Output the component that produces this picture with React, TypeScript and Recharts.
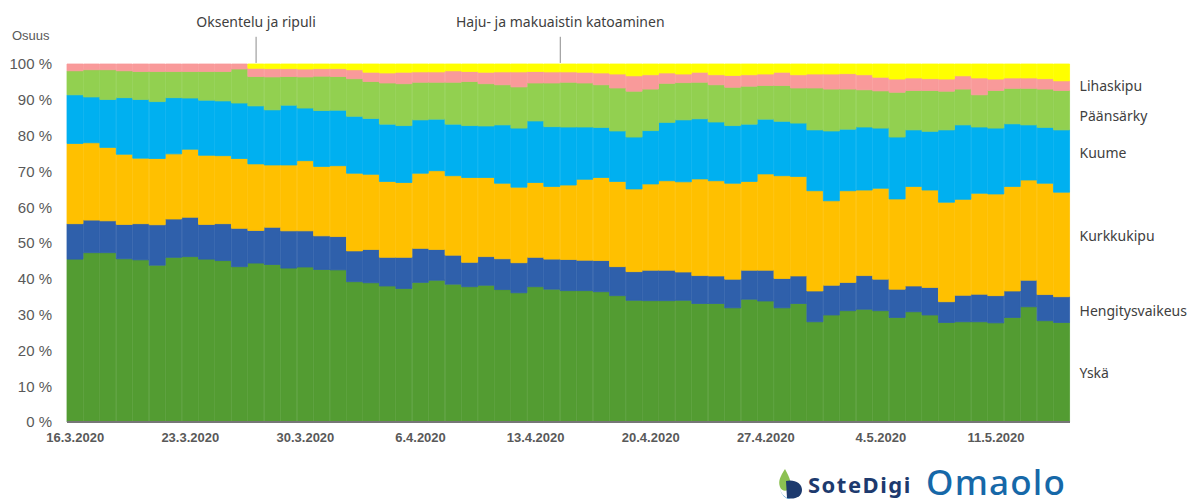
import { BarChart, Bar, XAxis, YAxis, ReferenceLine, LabelList } from "recharts"

const dates = [
  "16.3.2020", "17.3.2020", "18.3.2020", "19.3.2020", "20.3.2020", "21.3.2020", "22.3.2020",
  "23.3.2020", "24.3.2020", "25.3.2020", "26.3.2020", "27.3.2020", "28.3.2020", "29.3.2020",
  "30.3.2020", "31.3.2020", "1.4.2020", "2.4.2020", "3.4.2020", "4.4.2020", "5.4.2020",
  "6.4.2020", "7.4.2020", "8.4.2020", "9.4.2020", "10.4.2020", "11.4.2020", "12.4.2020",
  "13.4.2020", "14.4.2020", "15.4.2020", "16.4.2020", "17.4.2020", "18.4.2020", "19.4.2020",
  "20.4.2020", "21.4.2020", "22.4.2020", "23.4.2020", "24.4.2020", "25.4.2020", "26.4.2020",
  "27.4.2020", "28.4.2020", "29.4.2020", "30.4.2020", "1.5.2020", "2.5.2020", "3.5.2020",
  "4.5.2020", "5.5.2020", "6.5.2020", "7.5.2020", "8.5.2020", "9.5.2020", "10.5.2020",
  "11.5.2020", "12.5.2020", "13.5.2020", "14.5.2020", "15.5.2020",
]

// osuus (%) per päivä, alhaalta ylös
const yska = [
  45.5, 47.3, 47.3, 45.6, 45.3, 43.8, 46.0, 46.2, 45.5, 45.1,
  43.4, 44.4, 44.0, 43.0, 43.3, 42.6, 42.5, 39.2, 38.9, 38.0,
  37.3, 39.0, 39.6, 38.5, 37.8, 38.2, 37.0, 36.1, 37.8, 37.1,
  36.7, 36.7, 36.4, 35.3, 34.0, 33.9, 33.9, 34.0, 33.1, 33.1,
  31.9, 34.3, 33.8, 31.9, 33.1, 28.0, 29.9, 31.1, 31.5, 31.1,
  29.2, 30.8, 29.9, 27.8, 28.0, 28.0, 27.7, 29.2, 32.2, 28.3, 27.8,
]
const hengitys = [
  9.9, 9.1, 8.9, 9.6, 10.1, 11.3, 10.7, 11.0, 9.7, 10.3,
  10.7, 9.1, 10.4, 10.4, 10.1, 9.4, 9.3, 8.6, 9.3, 8.0,
  8.7, 9.5, 8.6, 8.1, 6.8, 8.0, 8.6, 8.4, 8.2, 8.4,
  8.7, 8.5, 8.7, 8.1, 8.0, 8.5, 8.5, 7.9, 7.8, 7.7,
  8.0, 8.1, 8.6, 8.2, 7.7, 8.6, 8.3, 7.9, 9.4, 8.8,
  7.9, 7.2, 7.7, 5.8, 7.4, 7.7, 7.6, 7.4, 7.4, 7.3, 7.2,
]
const kurkku = [
  22.4, 21.6, 20.5, 19.6, 18.3, 18.5, 18.2, 19.0, 19.3, 19.0,
  19.5, 18.6, 17.4, 18.4, 19.6, 19.4, 19.8, 21.7, 21.0, 21.2,
  20.9, 21.0, 22.0, 22.2, 23.7, 22.1, 21.1, 21.1, 20.9, 20.3,
  20.8, 22.6, 23.2, 23.8, 23.1, 24.1, 25.0, 25.2, 27.0, 26.6,
  26.8, 24.8, 26.9, 28.7, 27.8, 28.0, 23.6, 25.6, 23.9, 25.4,
  25.2, 27.8, 27.2, 27.8, 26.8, 28.2, 28.4, 29.2, 28.0, 31.1, 29.2,
]
const kuume = [
  13.6, 12.8, 13.4, 15.8, 16.4, 15.9, 15.7, 14.3, 15.4, 15.3,
  15.5, 16.2, 15.4, 16.7, 14.7, 15.6, 15.5, 15.9, 15.6, 16.0,
  15.9, 14.9, 14.4, 14.4, 14.5, 14.4, 16.3, 16.5, 17.2, 16.7,
  16.2, 14.6, 14.0, 14.1, 14.5, 14.9, 16.3, 17.3, 16.8, 16.4,
  16.1, 16.0, 15.3, 15.2, 14.9, 17.0, 19.5, 17.2, 17.6, 16.8,
  17.3, 15.8, 16.4, 20.2, 20.8, 18.5, 18.4, 17.5, 15.4, 15.6, 17.4,
]
const paansarky = [
  6.7, 7.6, 8.3, 7.5, 7.8, 8.4, 7.3, 7.4, 8.0, 8.2,
  9.5, 8.2, 9.2, 8.0, 8.7, 9.6, 9.4, 10.5, 10.3, 11.5,
  11.7, 10.5, 10.3, 11.7, 12.3, 11.8, 11.2, 11.5, 10.6, 12.2,
  12.5, 12.3, 11.9, 12.0, 12.8, 11.6, 10.9, 10.4, 10.2, 10.4,
  10.7, 10.6, 9.4, 10.0, 9.8, 11.7, 11.7, 11.2, 10.4, 10.4,
  12.5, 11.0, 11.4, 10.8, 10.0, 9.0, 10.5, 9.9, 10.2, 10.7, 11.0,
]
const lihaskipu = [
  1.9, 1.6, 1.6, 1.9, 2.1, 2.1, 2.1, 2.1, 2.1, 2.1,
  1.4, 2.3, 2.3, 2.2, 2.2, 2.1, 2.2, 2.5, 2.6, 2.8,
  3.2, 2.9, 2.9, 3.2, 2.8, 3.2, 3.6, 4.2, 3.2, 3.1,
  2.9, 3.0, 3.3, 3.9, 4.3, 4.0, 2.9, 2.4, 2.8, 2.8,
  3.3, 3.2, 3.2, 3.7, 3.7, 3.9, 4.2, 4.3, 4.2, 3.8,
  3.7, 3.5, 3.3, 3.4, 3.7, 4.7, 3.2, 2.9, 2.9, 2.9, 2.7,
]
const muut = [
  0, 0, 0, 0, 0, 0, 0, 0, 0, 0,
  0, 1.2, 1.3, 1.3, 1.4, 1.3, 1.3, 1.6, 2.3, 2.5,
  2.3, 2.2, 2.2, 1.9, 2.1, 2.3, 2.2, 2.2, 2.1, 2.2,
  2.2, 2.3, 2.5, 2.8, 3.3, 3.0, 2.5, 2.8, 2.3, 3.0,
  3.2, 3.0, 2.8, 2.3, 3.0, 2.8, 2.8, 2.7, 3.0, 3.7,
  4.2, 3.9, 4.1, 4.2, 3.3, 3.9, 4.2, 3.9, 3.9, 4.1, 4.7,
]

const yTicks = [0, 0.1, 0.2, 0.3, 0.4, 0.5, 0.6, 0.7, 0.8, 0.9, 1]

const data = dates.map((d, i) => ({
  date: d,
  yska: yska[i],
  hengitys: hengitys[i],
  kurkku: kurkku[i],
  kuume: kuume[i],
  paansarky: paansarky[i],
  lihaskipu: lihaskipu[i],
  muut: muut[i],
}))

const series = [
  { key: "yska", name: "Yskä", color: "#539C32", dy: 1 },
  { key: "hengitys", name: "Hengitysvaikeus", color: "#2F60AB", dy: 2 },
  { key: "kurkku", name: "Kurkkukipu", color: "#FFC000", dy: -8 },
  { key: "kuume", name: "Kuume", color: "#00B0F0", dy: -8 },
  { key: "paansarky", name: "Päänsärky", color: "#92D050", dy: 6 },
  { key: "lihaskipu", name: "Lihaskipu", color: "#F99A9A", dy: 0 },
  { key: "muut", name: "", color: "#FFFF00", dy: 0 },
]

const labelFont = "'Noto Sans', 'Open Sans', sans-serif"

const endLabel = (name: string, dy: number) => (props: any) => {
  const { x, y, width, height, index } = props
  if (!name || index !== dates.length - 1) return null
  return (
    <text
      x={Number(x) + Number(width) + 10}
      y={Number(y) + Number(height) / 2 + dy}
      dy="0.35em"
      fill="#404040"
      fontSize={14}
      fontFamily={labelFont}
    >
      {name}
    </text>
  )
}

export default function App() {
  return (
    <div style={{ position: "absolute", left: 0, top: 0, width: 1190, height: 499, overflow: "hidden", background: "#fff" }}>
      <div style={{ position: "absolute", left: 12, top: 28, fontFamily: "'Liberation Sans', Arial, sans-serif", fontSize: 13, color: "#595959" }}>
        Osuus
      </div>
      <BarChart
        width={1190}
        height={499}
        data={data}
        stackOffset="expand"
        barCategoryGap={0}
        barGap={0}
        margin={{ top: 64, right: 120, bottom: 47, left: 0 }}
      >
        <XAxis
          dataKey="date"
          interval={6}
          tickLine={false}
          tickSize={6}
          tickMargin={5}
          height={30}
          stroke="#767676"
          strokeWidth={2}
          tick={{ fill: "#595959", fontSize: 13, fontWeight: "bold", fontFamily: "'Liberation Sans', Arial, sans-serif" }}
        />
        <YAxis
          width={67}
          domain={[0, 1]}
          ticks={yTicks}
          axisLine={false}
          tickLine={false}
          tickSize={6}
          tickMargin={9}
          tickFormatter={(v: number) => `${Math.round(v * 100)} %`}
          tick={{ fill: "#595959", fontSize: 15, fontFamily: "'Liberation Sans', Arial, sans-serif" }}
        />
        {series.map((s) => (
          <Bar
            key={s.key}
            dataKey={s.key}
            name={s.name || "Muut"}
            stackId="a"
            fill={s.color}
            stroke={s.color}
            strokeWidth={0.8}
            isAnimationActive={false}
          >
            <LabelList dataKey={s.key} content={endLabel(s.name, s.dy)} />
          </Bar>
        ))}
        <ReferenceLine
          segment={[{ x: "27.3.2020", y: 1.003 }, { x: "27.3.2020", y: 1.076 }]}
          position="middle"
          ifOverflow="visible"
          stroke="#8c8c8c"
          strokeWidth={1}
          label={{ value: "Oksentelu ja ripuli", position: "top", offset: 10, fill: "#404040", fontSize: 14, fontFamily: labelFont }}
        />
        <ReferenceLine
          segment={[{ x: "15.4.2020", y: 1.003 }, { x: "15.4.2020", y: 1.076 }]}
          position="start"
          ifOverflow="visible"
          stroke="#8c8c8c"
          strokeWidth={1}
          label={{ value: "Haju- ja makuaistin katoaminen", position: "top", offset: 10, fill: "#404040", fontSize: 14, fontFamily: labelFont }}
        />
      </BarChart>
      <svg width={30} height={34} viewBox="0 0 30 34" style={{ position: "absolute", left: 776, top: 467 }}>
        <path d="M9 2 C4 10 2 14 4 20 C6 25 12 25 14 20 C16 14 12 8 9 2 Z" fill="#8cc152" />
        <path d="M10 14 C18 12 26 16 26 23 C26 30 18 33 11 31 Z" fill="#1d3a6e" />
        <path d="M4 22 C6 30 12 33 18 33 L11 31 C7 29 5 26 4 22 Z" fill="#1a7bc0" />
      </svg>
      <div
        style={{
          position: "absolute", left: 808, top: 473, lineHeight: 1, whiteSpace: "nowrap",
          fontFamily: "'Noto Sans', sans-serif", fontWeight: 700, fontSize: 22, color: "#1d3a6e", letterSpacing: 1.5,
        }}
      >
        SoteDigi
      </div>
      <div
        style={{
          position: "absolute", left: 926, top: 464, lineHeight: 1, whiteSpace: "nowrap",
          fontFamily: "'Noto Sans', sans-serif", fontWeight: 500, fontSize: 35, color: "#1668a8", letterSpacing: 1.2,
        }}
      >
        Omaolo
      </div>
    </div>
  )
}
